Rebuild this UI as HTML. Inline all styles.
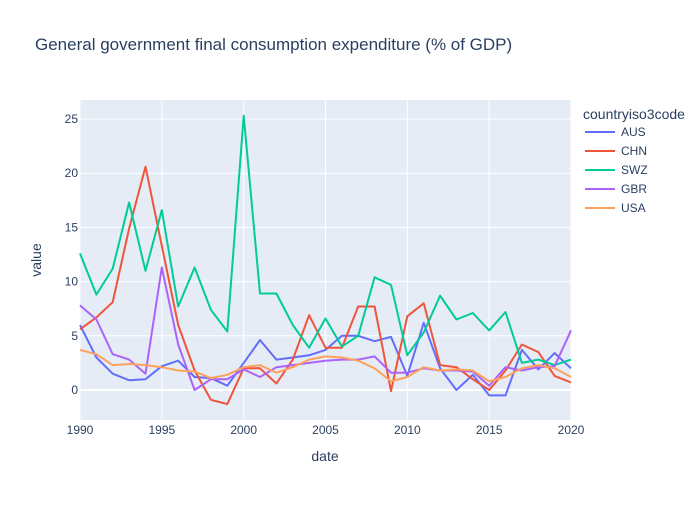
<!DOCTYPE html>
<html><head><meta charset="utf-8"><style>
body{margin:0;background:#fff;font-family:"Liberation Sans",sans-serif}
svg text{font-family:"Liberation Sans",sans-serif}
</style></head><body>
<svg id="chart" width="700" height="500">
<rect width="700" height="500" fill="#fff"/>
<text x="35" y="50" font-size="17" fill="#2a3f5f">General government final consumption expenditure (% of GDP)</text>
<rect x="80" y="100" width="491" height="320" fill="#e5ecf6"/>
<g id="grid"></g><g id="series"></g><g id="axes"></g>
<text x="325" y="461" font-size="14" fill="#2a3f5f" text-anchor="middle">date</text>
<text transform="translate(41,260) rotate(-90)" font-size="14" fill="#2a3f5f" text-anchor="middle">value</text>
<text x="583" y="119" font-size="14" fill="#2a3f5f">countryiso3code</text>
<g id="legend"></g>
</svg>
<script>
const years=[];for(let y=1990;y<=2020;y++)years.push(y);
const aus=[6.0,3.0,1.5,0.9,1.0,2.2,2.7,1.2,1.1,0.4,2.5,4.6,2.8,3.0,3.2,3.7,5.0,5.0,4.5,4.9,1.3,6.2,2.0,0.0,1.4,-0.5,-0.5,3.7,1.9,3.4,2.0];
const chn=[5.6,6.7,8.1,14.9,20.6,13.3,6.0,1.8,-0.9,-1.3,2.0,2.0,0.6,2.8,6.9,3.9,3.9,7.7,7.7,-0.1,6.8,8.0,2.3,2.1,1.0,0.0,1.8,4.2,3.5,1.3,0.7];
const swz=[12.6,8.8,11.2,17.3,11.0,16.6,7.7,11.3,7.4,5.4,25.3,8.9,8.9,6.0,3.9,6.6,4.0,5.0,10.4,9.7,3.2,5.3,8.7,6.5,7.1,5.5,7.2,2.5,2.8,2.3,2.8];
const gbr=[7.8,6.5,3.3,2.8,1.5,11.3,4.2,0.0,1.0,1.0,1.9,1.2,2.1,2.3,2.5,2.7,2.8,2.8,3.1,1.6,1.6,2.0,1.8,1.8,1.7,0.4,2.1,1.8,2.1,2.2,5.5];
const usa=[3.7,3.3,2.3,2.4,2.3,2.1,1.8,1.7,1.1,1.4,2.1,2.3,1.6,2.1,2.8,3.1,3.0,2.7,2.0,0.8,1.2,2.1,1.8,1.9,1.8,0.8,1.2,2.0,2.3,2.0,1.2];
const seriesNames=["AUS","CHN","SWZ","GBR","USA"];
const seriesVals=[aus,chn,swz,gbr,usa];
const colors=["#636efa","#ef553b","#00cc96","#ab63fa","#ffa15a"];
const xTicks=[1990,1995,2000,2005,2010,2015,2020];
const yTicks=[0,5,10,15,20,25];
const X=v=>80+(v-1990)*491/30;
const Y=v=>390-v*10.84;
const NS="http://www.w3.org/2000/svg";
const mk=(t,a,p)=>{const e=document.createElementNS(NS,t);for(const k in a)e.setAttribute(k,a[k]);p.appendChild(e);return e;};
const grid=document.getElementById('grid'),axes=document.getElementById('axes');
xTicks.forEach(t=>{
 const l=mk('line',{x1:X(t),x2:X(t),y1:100,y2:420,stroke:'#fff','stroke-width':1},grid);
 
 
 const tx=mk('text',{x:X(t),y:434,'font-size':12,fill:'#2a3f5f','text-anchor':'middle'},axes);tx.textContent=t;
 
 
});
yTicks.forEach(t=>{
 const l=mk('line',{x1:80,x2:571,y1:Y(t),y2:Y(t),stroke:'#fff','stroke-width':t===0?2:1},grid);
 
 
 const tx=mk('text',{x:78,y:Y(t)+4,'font-size':12,fill:'#2a3f5f','text-anchor':'end'},axes);tx.textContent=t;
 
 
});
const sg=document.getElementById('series'),lg=document.getElementById('legend');
seriesVals.forEach((vals,i)=>{
 const pts=vals.map((v,j)=>X(years[j]).toFixed(1)+','+Y(v).toFixed(1)).join(' ');
 const pl=mk('polyline',{points:pts,fill:'none',stroke:colors[i],'stroke-width':2,'stroke-linejoin':'round'},sg);
 
 
 const g=mk('g',{},lg);
 
 
 const yy=132+i*19;
 mk('line',{x1:585,x2:615,y1:yy,y2:yy,stroke:colors[i],'stroke-width':2},g);
 const t=mk('text',{x:621,y:yy+4,'font-size':12,fill:'#2a3f5f'},g);t.textContent=seriesNames[i];
});
</script>
</body></html>
